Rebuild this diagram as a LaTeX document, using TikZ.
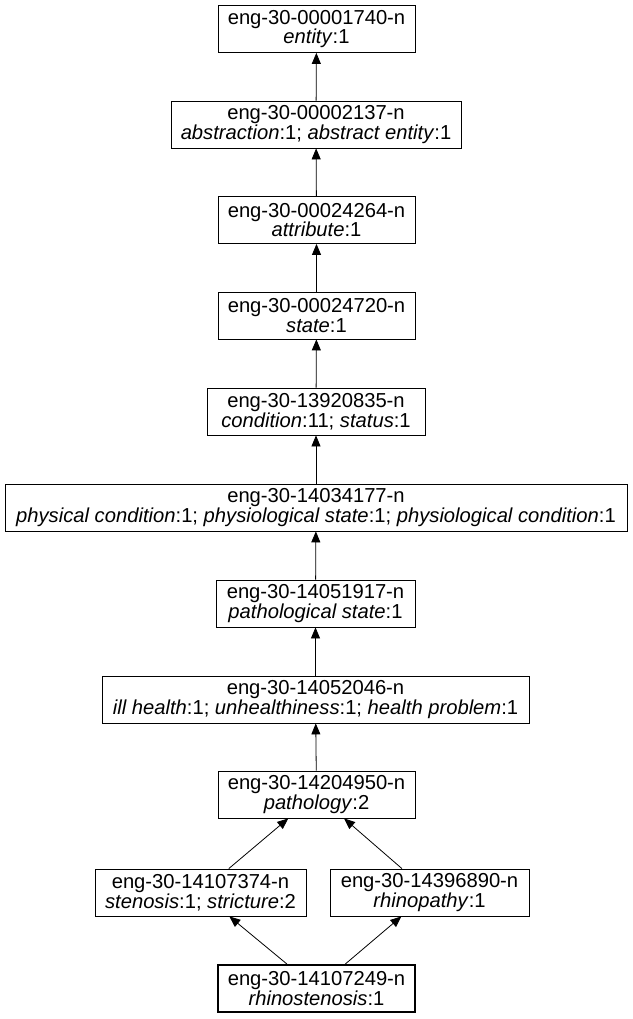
\documentclass[tikz,border=0pt]{standalone}
\usepackage{fontspec}
\setmainfont{Liberation Sans}
\usetikzlibrary{arrows.meta}
\begin{document}
\begin{tikzpicture}[x=1pt,y=-1pt,
  syn/.style={draw,line width=0.8pt,inner sep=0pt,minimum height=47,align=center,font=\fontsize{20.2}{18}\selectfont},
  edge/.style={line width=0.8pt,-{Triangle[length=11pt,width=9pt]}}]
\useasboundingbox (0,0) rectangle (632,1019);
\node[syn,minimum width=197] (n1) at (316.5,29) {eng-30-00001740-n\\\textit{entity}:1};
\node[syn,minimum width=290] (n2) at (316,124.5) {eng-30-00002137-n\\\textit{abstraction}:1; \textit{abstract entity}:1};
\node[syn,minimum width=197] (n3) at (316.5,220) {eng-30-00024264-n\\\textit{attribute}:1};
\node[syn,minimum width=197] (n4) at (316.5,315.5) {eng-30-00024720-n\\\textit{state}:1};
\node[syn,minimum width=218] (n5) at (316,411.5) {eng-30-13920835-n\\\textit{condition}:11; \textit{status}:1};
\node[syn,minimum width=622] (n6) at (316,507.5) {eng-30-14034177-n\\\textit{physical condition}:1; \textit{physiological state}:1; \textit{physiological condition}:1};
\node[syn,minimum width=199] (n7) at (315.5,603.5) {eng-30-14051917-n\\\textit{pathological state}:1};
\node[syn,minimum width=427] (n8) at (315.5,699.5) {eng-30-14052046-n\\\textit{ill health}:1; \textit{unhealthiness}:1; \textit{health problem}:1};
\node[syn,minimum width=197] (n9) at (316.5,794.5) {eng-30-14204950-n\\\textit{pathology}:2};
\node[syn,minimum width=211] (n10) at (200.5,892.5) {eng-30-14107374-n\\\textit{stenosis}:1; \textit{stricture}:2};
\node[syn,minimum width=199] (n11) at (429.5,892.5) {eng-30-14396890-n\\\textit{rhinopathy}:1};
\node[syn,minimum width=197,line width=2pt] (n12) at (316.5,988.5) {eng-30-14107249-n\\\textit{rhinostenosis}:1};
\draw[edge] (n2) -- (n1);
\draw[edge] (n3) -- (n2);
\draw[edge] (n4) -- (n3);
\draw[edge] (n5) -- (n4);
\draw[edge] (n6) -- (n5);
\draw[edge] (n7) -- (n6);
\draw[edge] (n8) -- (n7);
\draw[edge] (n9) -- (n8);
\draw[edge] (n10) -- (n9);
\draw[edge] (n11) -- (n9);
\draw[edge] (n12) -- (n10);
\draw[edge] (n12) -- (n11);
\end{tikzpicture}
\end{document}
